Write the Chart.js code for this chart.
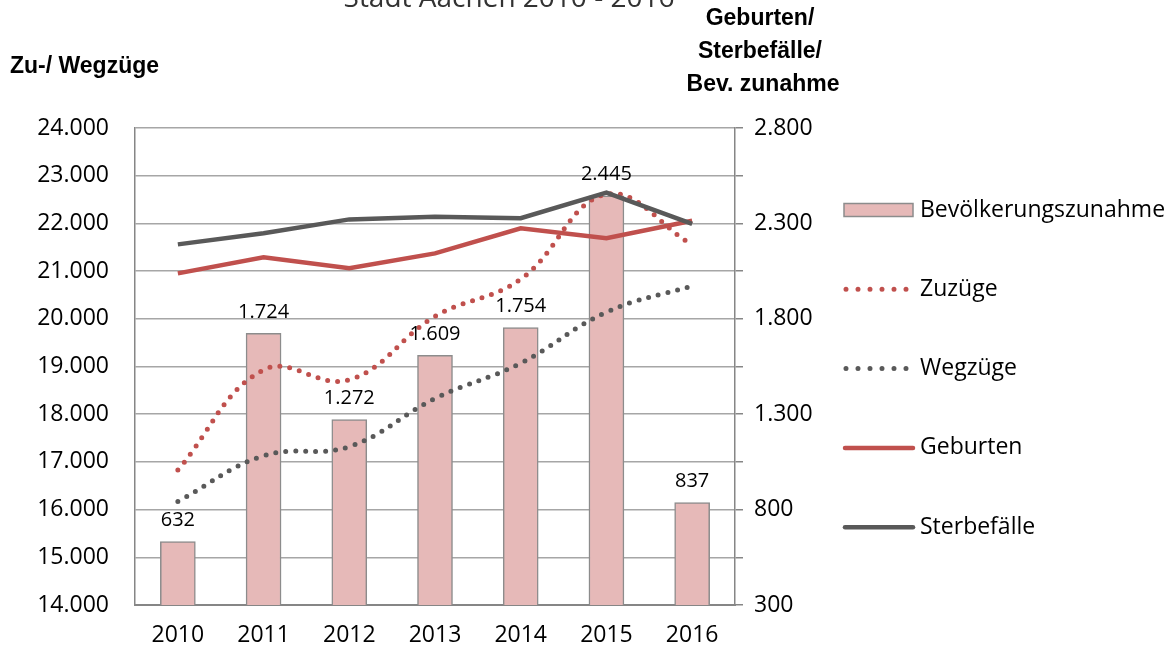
<!DOCTYPE html>
<html>
<head>
<meta charset="utf-8">
<script src="https://cdn.jsdelivr.net/npm/chart.js@4/dist/chart.umd.min.js"></script>
<style>
    html, body { margin: 0; padding: 0; background: #fff; }
    #wrap { position: relative; width: 1176px; height: 654px; }
</style>
</head>
<body>
<div id="wrap"><canvas id="chart" width="1176" height="654"></canvas></div>
<script>
// Data
const years = ['2010', '2011', '2012', '2013', '2014', '2015', '2016'];
const bevZunahme = [632, 1724, 1272, 1609, 1754, 2445, 837];
const zuzuege = [16830, 18930, 18720, 20050, 20830, 22610, 21550];
const wegzuege = [16170, 17130, 17320, 18330, 19070, 20140, 20690];
const geburten = [2038, 2122, 2065, 2143, 2274, 2222, 2314];
const sterbefaelle = [2190, 2248, 2321, 2335, 2327, 2461, 2297];

const leftTicks = { min: 14000, max: 24000, step: 1000 };
const rightTicks = { min: 300, max: 2800, step: 250, labelStep: 500 };

const RED = '#C0504D';
const GREY = '#595959';
const BAR_FILL = '#E6B9B8';
const BAR_EDGE = '#8C8C8C';
const GRID = '#A6A6A6';
const FONT = '"Open Sans", "Noto Sans", sans-serif';
const BOLD = '"Liberation Sans", Arial, sans-serif';

// German thousands separator
function fmt(v) {
    return String(Math.round(v)).replace(/\B(?=(\d{3})+(?!\d))/g, '.');
}

// Title (cut off at the top), axis titles, bar labels and legend
const decorations = {
    id: 'decorations',
    afterDatasetsDraw(chart) {
        const ctx = chart.ctx;
        ctx.save();

        // bar value labels
        const barMeta = chart.getDatasetMeta(0);
        ctx.font = '20px ' + FONT;
        ctx.fillStyle = '#000';
        ctx.textAlign = 'center';
        ctx.textBaseline = 'middle';
        barMeta.data.forEach((bar, i) => {
            ctx.fillText(fmt(bevZunahme[i]), bar.x, bar.y - 21);
        });
        ctx.restore();
    },
    afterDraw(chart) {
        const ctx = chart.ctx;
        ctx.save();

        // chart title, mostly outside the picture
        ctx.font = '28px ' + FONT;
        ctx.fillStyle = '#333';
        ctx.textAlign = 'center';
        ctx.textBaseline = 'alphabetic';
        ctx.fillText('Stadt Aachen 2010 - 2016', 509, 7);

        // axis titles
        ctx.font = 'bold 23px ' + BOLD;
        ctx.fillStyle = '#000';
        ctx.textAlign = 'left';
        ctx.textBaseline = 'middle';
        ctx.fillText('Zu-/ Wegzüge', 10, 67);
        ctx.textAlign = 'center';
        ctx.fillText('Geburten/', 760, 19);
        ctx.fillText('Sterbefälle/', 760, 52);
        ctx.fillText('Bev. zunahme', 763, 85);

        // legend
        const lx = 844, lw = 69, ly = 210, gap = 79.3;
        ctx.font = '23px ' + FONT;
        ctx.textAlign = 'left';
        chart.data.datasets.forEach((ds, i) => {
            const y = ly + i * gap;
            if (ds.type === 'bar') {
                ctx.fillStyle = ds.backgroundColor;
                ctx.strokeStyle = ds.borderColor;
                ctx.lineWidth = 1.5;
                ctx.fillRect(lx, y - 6.5, lw, 13);
                ctx.strokeRect(lx, y - 6.5, lw, 13);
            } else {
                ctx.strokeStyle = ds.borderColor;
                ctx.lineWidth = ds.borderWidth;
                ctx.lineCap = 'round';
                if (ds.borderDash && ds.borderDash.length) {
                    ctx.setLineDash([0, 12]);
                    ctx.beginPath();
                    ctx.moveTo(lx + 2, y);
                    ctx.lineTo(lx + 63, y);
                    ctx.stroke();
                    ctx.setLineDash([]);
                } else {
                    ctx.beginPath();
                    ctx.moveTo(lx + 1, y);
                    ctx.lineTo(lx + lw, y);
                    ctx.stroke();
                }
            }
            ctx.fillStyle = '#000';
            ctx.fillText(ds.label, 920, y);
        });
        ctx.restore();
    }
};

const chart = new Chart(document.getElementById('chart'), {
    data: {
        labels: years,
        datasets: [
            {
                type: 'bar',
                label: 'Bevölkerungszunahme',
                data: bevZunahme,
                yAxisID: 'y1',
                backgroundColor: BAR_FILL,
                borderColor: BAR_EDGE,
                borderWidth: 1.5,
                barThickness: 35,
                order: 10
            },
            {
                type: 'line',
                label: 'Zuzüge',
                data: zuzuege,
                yAxisID: 'y',
                borderColor: RED,
                borderWidth: 5,
                borderDash: [0, 10],
                borderCapStyle: 'round',
                tension: 0.4,
                pointRadius: 0,
                fill: false,
                order: 2
            },
            {
                type: 'line',
                label: 'Wegzüge',
                data: wegzuege,
                yAxisID: 'y',
                borderColor: GREY,
                borderWidth: 5,
                borderDash: [0, 10],
                borderCapStyle: 'round',
                tension: 0.4,
                pointRadius: 0,
                fill: false,
                order: 2
            },
            {
                type: 'line',
                label: 'Geburten',
                data: geburten,
                yAxisID: 'y1',
                borderColor: RED,
                borderWidth: 4.5,
                tension: 0,
                pointRadius: 0,
                fill: false,
                order: 3
            },
            {
                type: 'line',
                label: 'Sterbefälle',
                data: sterbefaelle,
                yAxisID: 'y1',
                borderColor: GREY,
                borderWidth: 4.5,
                tension: 0,
                pointRadius: 0,
                fill: false,
                order: 1
            }
        ]
    },
    options: {
        responsive: false,
        animation: false,
        devicePixelRatio: 1,
        layout: {
            padding: { left: 0, right: 341, top: 128, bottom: 0 }
        },
        plugins: {
            legend: { display: false },
            tooltip: { enabled: false },
            title: { display: false }
        },
        scales: {
            x: {
                offset: true,
                grid: { display: false, drawTicks: false },
                border: { display: true, color: '#868686', width: 2 },
                ticks: {
                    color: '#000',
                    font: { family: FONT, size: 23 },
                    padding: 17,
                    maxRotation: 0
                },
                afterFit(scale) { scale.height = 49; }
            },
            y: {
                position: 'left',
                min: leftTicks.min,
                max: leftTicks.max,
                grid: {
                    color: GRID,
                    lineWidth: 1.5,
                    drawTicks: false
                },
                border: { display: true, color: '#868686', width: 1.5 },
                ticks: {
                    stepSize: leftTicks.step,
                    color: '#000',
                    font: { family: FONT, size: 23 },
                    padding: 26,
                    callback: (v) => fmt(v)
                },
                afterFit(scale) { scale.width = 135; }
            },
            y1: {
                position: 'right',
                min: rightTicks.min,
                max: rightTicks.max,
                grid: {
                    drawOnChartArea: false,
                    drawTicks: true,
                    tickLength: 8,
                    color: '#868686',
                    lineWidth: 1.5
                },
                border: { display: true, color: '#868686', width: 1.5 },
                ticks: {
                    stepSize: rightTicks.step,
                    color: '#000',
                    font: { family: FONT, size: 23 },
                    padding: 11,
                    autoSkip: false,
                    callback: (v) => ((v - rightTicks.min) % rightTicks.labelStep === 0 ? fmt(v) : '')
                },
                afterFit(scale) { scale.width = 100; }
            }
        }
    },
    plugins: [decorations]
});
</script>
</body>
</html>
